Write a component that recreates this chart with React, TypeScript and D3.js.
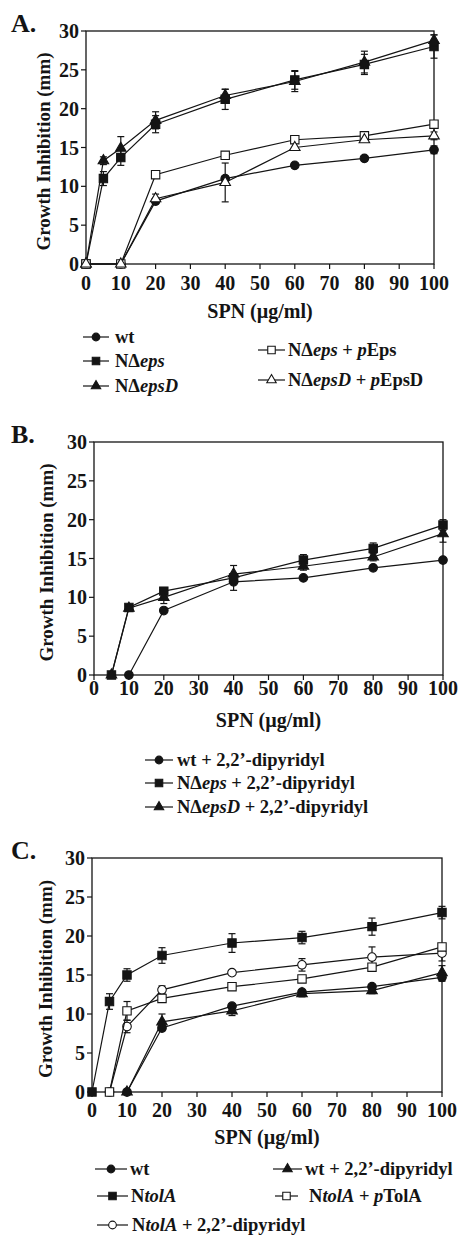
import React from 'react';
import * as d3 from 'd3';

// ---- data ----
const yTicks = [0, 5, 10, 15, 20, 25, 30];
const xTicks = [0, 10, 20, 30, 40, 50, 60, 70, 80, 90, 100];

// panel A
const dosesA = [0, 5, 10, 20, 40, 60, 80, 100];
const wtA = [0, null, 0, 8.1, 11.0, 12.7, 13.6, 14.7];
const wtAErr = [0, 0, 0, 0.3, 0.3, 0.2, 0.3, 0.5];
const epsA = [0, 11.0, 13.7, 18.0, 21.2, 23.7, 25.7, 28.0];
const epsAErr = [0, 0.9, 1.0, 1.1, 1.3, 1.2, 1.3, 1.5];
const epsDA = [0, 13.3, 14.9, 18.5, 21.7, 23.5, 26.0, 28.8];
const epsDAErr = [0, 0.5, 1.5, 1.1, 0.8, 1.3, 1.4, 0.7];
const pEpsA = [0, null, 0, 11.5, 14.0, 16.0, 16.5, 18.0];
const pEpsAErr = [0, 0, 0, 0, 0, 0, 0, 0];
const pEpsDA = [0, null, 0, 8.4, 10.5, 15.0, 16.0, 16.5];
const pEpsDAErr = [0, 0, 0, 0.6, 2.5, 0, 0, 0.5];

// panel B
const dosesB = [5, 10, 20, 40, 60, 80, 100];
const wtB = [null, 0, 8.3, 12.0, 12.5, 13.8, 14.8];
const wtBErr = [0, 0, 0, 0, 0, 0, 0];
const epsB = [0, 8.7, 10.8, 12.5, 14.8, 16.3, 19.3];
const epsBErr = [0, 0.3, 0.3, 1.6, 0.7, 0.7, 0.7];
const epsDB = [0, 8.6, 10.0, 13.0, 14.0, 15.2, 18.2];
const epsDBErr = [0, 0, 0.8, 0, 0.5, 0.5, 1.1];

// panel C
const dosesC = [0, 5, 10, 20, 40, 60, 80, 100];
const wtC = [null, null, 0, 8.2, 11.0, 12.8, 13.5, 14.7];
const wtCErr = [0, 0, 0, 0, 0.3, 0.3, 0.3, 0.5];
const tolAC = [0, 11.6, 15.0, 17.5, 19.1, 19.8, 21.2, 23.0];
const tolACErr = [0, 1.0, 0.8, 1.0, 1.2, 0.8, 1.1, 0.8];
const wtDipC = [null, null, 0, 9.0, 10.4, 12.6, 13.0, 15.3];
const wtDipCErr = [0, 0, 0, 1.0, 0.6, 0.4, 0.4, 0.9];
const tolApC = [null, 0, 10.4, 12.0, 13.5, 14.5, 16.0, 18.6];
const tolApCErr = [0, 0, 1.2, 0, 0, 0, 0, 0];
const tolADipC = [null, 0, 8.4, 13.1, 15.3, 16.3, 17.3, 17.8];
const tolADipCErr = [0, 0, 0.8, 0.5, 0, 0.8, 1.3, 1.0];

type Seg = [string, boolean];
type Shape = 'circle' | 'square' | 'triangle';
type Series = {
  label: Seg[];
  doses: number[];
  values: (number | null)[];
  errors: number[];
  shape: Shape;
  filled: boolean;
  legend: { x1: number; x2: number; tx: number; by: number };
};
type Panel = {
  letter: string;
  x0: number; x1: number; y0: number; y1: number;
  tickOff: number; labelOff: number; yLabelX: number;
  series: Series[];
};

const FONT = '"Liberation Serif", "Times New Roman", Times, serif';
const INK = '#141414';

const panels: Panel[] = [
  {
    letter: 'A.', x0: 86, x1: 434, y0: 264, y1: 31, tickOff: 26, labelOff: 54, yLabelX: 44,
    series: [
      { label: [['wt', false]], doses: dosesA, values: wtA, errors: wtAErr, shape: 'circle', filled: true,
        legend: { x1: 83, x2: 109, tx: 115, by: 343 } },
      { label: [['N\u0394', false], ['eps', true]], doses: dosesA, values: epsA, errors: epsAErr, shape: 'square', filled: true,
        legend: { x1: 83, x2: 109, tx: 115, by: 367 } },
      { label: [['N\u0394', false], ['epsD', true]], doses: dosesA, values: epsDA, errors: epsDAErr, shape: 'triangle', filled: true,
        legend: { x1: 83, x2: 109, tx: 115, by: 392 } },
      { label: [['N\u0394', false], ['eps', true], [' + ', false], ['p', true], ['Eps', false]], doses: dosesA, values: pEpsA, errors: pEpsAErr, shape: 'square', filled: false,
        legend: { x1: 258, x2: 285, tx: 288, by: 356 } },
      { label: [['N\u0394', false], ['epsD', true], [' + ', false], ['p', true], ['EpsD', false]], doses: dosesA, values: pEpsDA, errors: pEpsDAErr, shape: 'triangle', filled: false,
        legend: { x1: 258, x2: 285, tx: 288, by: 386 } },
    ],
  },
  {
    letter: 'B.', x0: 94, x1: 443, y0: 675, y1: 442, tickOff: 20, labelOff: 52, yLabelX: 47,
    series: [
      { label: [['wt + 2,2\u2019-dipyridyl', false]], doses: dosesB, values: wtB, errors: wtBErr, shape: 'circle', filled: true,
        legend: { x1: 145, x2: 173, tx: 177, by: 766 } },
      { label: [['N\u0394', false], ['eps', true], [' + 2,2\u2019-dipyridyl', false]], doses: dosesB, values: epsB, errors: epsBErr, shape: 'square', filled: true,
        legend: { x1: 145, x2: 173, tx: 177, by: 789 } },
      { label: [['N\u0394', false], ['epsD', true], [' + 2,2\u2019-dipyridyl', false]], doses: dosesB, values: epsDB, errors: epsDBErr, shape: 'triangle', filled: true,
        legend: { x1: 145, x2: 173, tx: 177, by: 813 } },
    ],
  },
  {
    letter: 'C.', x0: 92, x1: 442, y0: 1092, y1: 858, tickOff: 25, labelOff: 52, yLabelX: 46,
    series: [
      { label: [['wt', false]], doses: dosesC, values: wtC, errors: wtCErr, shape: 'circle', filled: true,
        legend: { x1: 95, x2: 127, tx: 130, by: 1175 } },
      { label: [['N', false], ['tolA', true]], doses: dosesC, values: tolAC, errors: tolACErr, shape: 'square', filled: true,
        legend: { x1: 97, x2: 128, tx: 131, by: 1202 } },
      { label: [['N', false], ['tolA', true], [' + 2,2\u2019-dipyridyl', false]], doses: dosesC, values: tolADipC, errors: tolADipCErr, shape: 'circle', filled: false,
        legend: { x1: 97, x2: 128, tx: 132, by: 1231 } },
      { label: [['N', false], ['tolA', true], [' + ', false], ['p', true], ['TolA', false]], doses: dosesC, values: tolApC, errors: tolApCErr, shape: 'square', filled: false,
        legend: { x1: 275, x2: 298, tx: 309, by: 1202 } },
      { label: [['wt + 2,2\u2019-dipyridyl', false]], doses: dosesC, values: wtDipC, errors: wtDipCErr, shape: 'triangle', filled: true,
        legend: { x1: 273, x2: 302, tx: 305, by: 1175 } },
    ],
  },
];

const symbolPath = (shape: Shape, k = 1) => {
  if (shape === 'circle') return d3.symbol(d3.symbolCircle, 58 * k)()!;
  if (shape === 'square') return d3.symbol(d3.symbolSquare, 70 * k)()!;
  return d3.symbol(d3.symbolTriangle, 48 * k)()!;
};

function Marker({ shape, filled, x, y, k = 1 }: { shape: Shape; filled: boolean; x: number; y: number; k?: number }) {
  return (
    <path
      d={symbolPath(shape, k)}
      transform={`translate(${x},${y})`}
      fill={filled ? INK : '#fff'}
      stroke={INK}
      strokeWidth={1.1}
    />
  );
}

function ChartPanel({ p }: { p: Panel }) {
  const x = d3.scaleLinear().domain([0, 100]).range([p.x0, p.x1]);
  const y = d3.scaleLinear().domain([0, 30]).range([p.y0, p.y1]);
  const line = d3.line<{ d: number; v: number }>().x((d) => x(d.d)).y((d) => y(d.v));
  const midY = (p.y0 + p.y1) / 2 + 4;

  return (
    <g>
      <text x={11} y={p.y1 + 1} fontSize={26} fontWeight="bold" fontFamily={FONT} fill={INK}>{p.letter}</text>

      {/* frame */}
      <rect x={p.x0} y={p.y1} width={p.x1 - p.x0} height={p.y0 - p.y1} fill="none" stroke={INK} strokeWidth={1.3} />

      {yTicks.map((t) => (
        <g key={'y' + t}>
          <line x1={p.x0 - 5} x2={p.x0} y1={y(t)} y2={y(t)} stroke={INK} strokeWidth={1.2} />
          <text x={p.x0 - 7} y={y(t)} dy="0.35em" textAnchor="end" fontSize={20} fontWeight="bold" fontFamily={FONT} fill={INK}>{t}</text>
        </g>
      ))}
      {xTicks.map((t) => (
        <g key={'x' + t}>
          <line x1={x(t)} x2={x(t)} y1={p.y0} y2={p.y0 + 5} stroke={INK} strokeWidth={1.2} />
          <text x={x(t)} y={p.y0 + p.tickOff} textAnchor="middle" fontSize={20} fontWeight="bold" fontFamily={FONT} fill={INK}>{t}</text>
        </g>
      ))}

      <text x={(p.x0 + p.x1) / 2} y={p.y0 + p.labelOff} textAnchor="middle" fontSize={20} fontWeight="bold" fontFamily={FONT} fill={INK}>SPN (µg/ml)</text>
      <text transform={`translate(${p.yLabelX + 6},${midY}) rotate(-90)`} textAnchor="middle" fontSize={19} fontWeight="bold" fontFamily={FONT} fill={INK}>Growth Inhibition (mm)</text>

      {p.series.map((s, i) => {
        const pts = s.doses
          .map((d, j) => ({ d, v: s.values[j] as number, e: s.errors[j] }))
          .filter((q) => q.v !== null);
        return (
          <g key={'s' + i}>
            <path d={line(pts)!} fill="none" stroke={INK} strokeWidth={1.2} />
            {pts.filter((q) => q.e > 0).map((q, j) => (
              <g key={'e' + j} stroke={INK} strokeWidth={1.2}>
                <line x1={x(q.d)} x2={x(q.d)} y1={y(q.v - q.e)} y2={y(q.v + q.e)} />
                <line x1={x(q.d) - 3.5} x2={x(q.d) + 3.5} y1={y(q.v + q.e)} y2={y(q.v + q.e)} />
                <line x1={x(q.d) - 3.5} x2={x(q.d) + 3.5} y1={y(q.v - q.e)} y2={y(q.v - q.e)} />
              </g>
            ))}
            {pts.map((q, j) => (
              <Marker key={'m' + j} shape={s.shape} filled={s.filled} x={x(q.d)} y={y(q.v)} />
            ))}
          </g>
        );
      })}

      {/* legend */}
      {p.series.map((s, i) => {
        const L = s.legend;
        const cy = L.by - 6;
        return (
          <g key={'l' + i}>
            <line x1={L.x1} x2={L.x2} y1={cy} y2={cy} stroke={INK} strokeWidth={1.2} />
            <Marker shape={s.shape} filled={s.filled} x={(L.x1 + L.x2) / 2} y={cy} k={0.8} />
            <text x={L.tx} y={L.by} fontSize={18.5} fontWeight="bold" fontFamily={FONT} fill={INK}>
              {s.label.map((seg, j) => (
                <tspan key={j} fontStyle={seg[1] ? 'italic' : 'normal'} xmlSpace="preserve">{seg[0]}</tspan>
              ))}
            </text>
          </g>
        );
      })}
    </g>
  );
}

export default function App() {
  return (
    <svg
      width={461}
      height={1235}
      style={{ position: 'absolute', left: 0, top: 0, background: '#fff' }}
    >
      <rect width={461} height={1235} fill="#fff" />
      {panels.map((p) => (
        <ChartPanel key={p.letter} p={p} />
      ))}
    </svg>
  );
}
